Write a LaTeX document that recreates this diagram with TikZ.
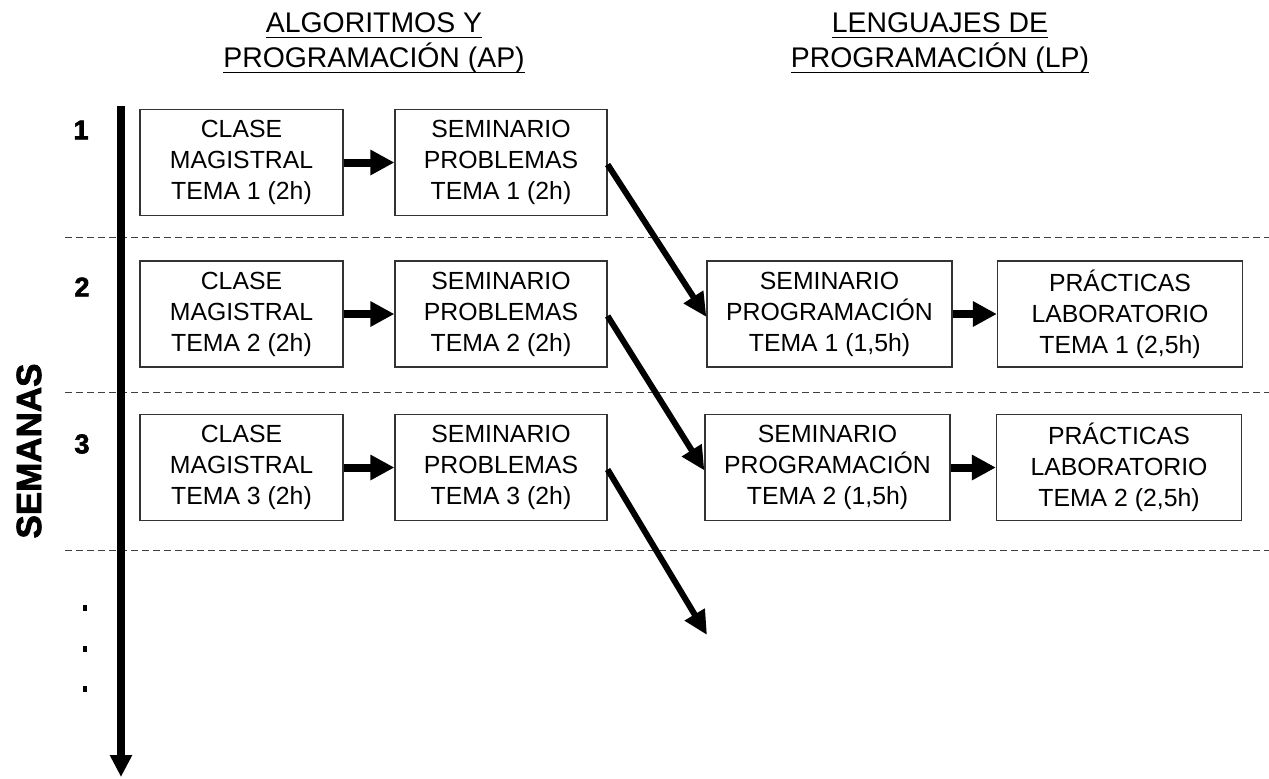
\documentclass[tikz,border=0pt]{standalone}
\usepackage{fontspec}
\setmainfont{Liberation Sans}
\newfontfamily\heavyfont[FakeBold=2.2]{Liberation Sans Bold}
\usetikzlibrary{arrows.meta}

% underline with a fixed gap below the baseline
\newcommand\headul[1]{\underline{\raisebox{0pt}[\height][1.4pt]{#1}}}

\begin{document}
\begin{tikzpicture}[x=0.5pt,y=-0.5pt,
  box/.style={draw=black!80, line width=0.6pt, inner sep=0pt, align=center,
    minimum height=53pt, font=\fontsize{12.4}{15.5}\selectfont},
  boxA/.style={box, minimum width=101.5pt},
  boxB/.style={box, minimum width=106pt},
  boxC/.style={box, minimum width=122.5pt},
  heading/.style={anchor=base, inner sep=0pt, font=\fontsize{14.2}{14.2}\selectfont},
  weeknum/.style={font=\fontsize{13.5}{13.5}\heavyfont},
  sepline/.style={draw=black!75, line width=0.5pt, dash pattern=on 3.3pt off 2.2pt},
  harrow/.style={line width=4pt, -{Triangle[length=12pt,width=12pt]}},
  darrow/.style={line width=3pt, -{Triangle[length=12pt,width=11pt]}},
  axisarrow/.style={line width=3.8pt, -{Triangle[length=11pt,width=10.5pt]}},
  dotmark/.style={fill=black, inner sep=0pt, minimum width=2.2pt, minimum height=2.6pt}
]
\useasboundingbox (0,0) rectangle (1269,778);

% column headings
\node[heading] (hAP1) at (374,32) {\headul{ALGORITMOS Y}};
\node[heading] (hAP2) at (374,67) {\headul{PROGRAMACIÓN (AP)}};
\node[heading] (hLP1) at (940,32) {\headul{LENGUAJES DE}};
\node[heading] (hLP2) at (940,67) {\headul{PROGRAMACIÓN (LP)}};

% week separators
\foreach \y/\n in {237/1,392/2,550/3} {
  \coordinate (sL\n) at (65,\y);
  \coordinate (sR\n) at (1269,\y);
  \draw[sepline] (sL\n) -- (sR\n);
}

% time axis
\coordinate (axTop) at (121,106);
\coordinate (axBot) at (121,777);
\draw[axisarrow] (axTop) -- (axBot);
\node[rotate=90, font=\fontsize{17.5}{17.5}\heavyfont] (sem) at (29,451) {SEMANAS};

% week numbers and continuation dots
\node[weeknum] (w1) at (81,130) {1};
\node[weeknum] (w2) at (82,287) {2};
\node[weeknum] (w3) at (82,444) {3};
\node[dotmark] (d1) at (85,608) {};
\node[dotmark] (d2) at (85,649) {};
\node[dotmark] (d3) at (85,689) {};

% AP activities
\node[boxA] (a1) at (241.5,162.5) {CLASE\\MAGISTRAL\\TEMA 1 (2h)};
\node[boxB] (b1) at (501,162.5) {SEMINARIO\\PROBLEMAS\\TEMA 1 (2h)};
\node[boxA] (a2) at (241.5,314) {CLASE\\MAGISTRAL\\TEMA 2 (2h)};
\node[boxB] (b2) at (501,314) {SEMINARIO\\PROBLEMAS\\TEMA 2 (2h)};
\node[boxA] (a3) at (241.5,467.5) {CLASE\\MAGISTRAL\\TEMA 3 (2h)};
\node[boxB] (b3) at (501,467.5) {SEMINARIO\\PROBLEMAS\\TEMA 3 (2h)};

% LP activities
\node[boxC] (c1) at (829.5,314) {SEMINARIO\\PROGRAMACIÓN\\TEMA 1 (1,5h)};
\node[boxC] (e1) at (1120,314) {PRÁCTICAS\\LABORATORIO\\TEMA 1 (2,5h)};
\node[boxC] (c2) at (827.5,467.5) {SEMINARIO\\PROGRAMACIÓN\\TEMA 2 (1,5h)};
\node[boxC] (e2) at (1119,467.5) {PRÁCTICAS\\LABORATORIO\\TEMA 2 (2,5h)};

\coordinate (next) at (707,635);

% flow within a week
\draw[harrow] (a1) -- (b1);
\draw[harrow] (a2) -- (b2);
\draw[harrow] (a3) -- (b3);
\draw[harrow] (c1) -- (e1);
\draw[harrow] (c2) -- (e2);

% flow into the following week
\draw[darrow] ([yshift=-1pt]b1.east) -- ([yshift=-1.5pt]c1.west);
\draw[darrow] ([yshift=-1pt]b2.east) -- ([yshift=-1.5pt]c2.west);
\draw[darrow] ([yshift=-1pt]b3.east) -- (next);
\end{tikzpicture}
\end{document}
